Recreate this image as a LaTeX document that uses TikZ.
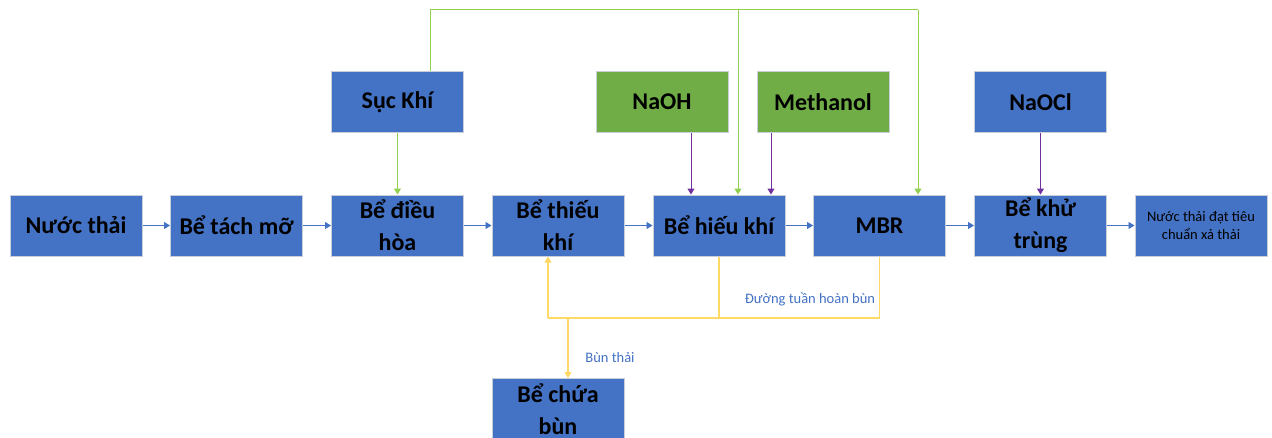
\documentclass[tikz,border=0pt]{standalone}
\usepackage{fontspec}
\setmainfont{Carlito}
\usetikzlibrary{arrows.meta,calc}
\definecolor{obl}{HTML}{4472C4}
\definecolor{ogr}{HTML}{70AD47}
\definecolor{lgr}{HTML}{92D050}
\definecolor{opu}{HTML}{7030A0}
\definecolor{oye}{HTML}{FFD966}
\definecolor{bord}{HTML}{C9CFDA}
\tikzset{
  box/.style={draw=bord,line width=1pt,fill=obl,minimum width=132pt,minimum height=61pt,inner sep=0pt,
    align=center,font=\fontsize{24}{32}\selectfont\bfseries,text=black},
  gbox/.style={box,fill=ogr},
  sbox/.style={box,font=\fontsize{14.5}{18}\selectfont},
  tip/.style={-{Triangle[length=6pt,width=7pt]}},
  flow/.style={tip,draw=obl,line width=0.9pt},
  gline/.style={draw=lgr,line width=1pt},
  pline/.style={draw=opu,line width=1pt},
  yline/.style={draw=oye,line width=1.3pt},
  lab/.style={text=obl,font=\fontsize{14.5}{16}\selectfont}
}
\begin{document}
\begin{tikzpicture}[x=1pt,y=-1pt]
\useasboundingbox (0,0) rectangle (1272,437);
% main row
\node[box] (nt) at (76,225.5) {Nước thải};
\node[box] (tm) at (236.5,225.5) {Bể tách mỡ};
\node[box] (dh) at (397.5,225.5) {Bể điều\\hòa};
\node[box] (tk) at (558,225.5) {Bể thiếu\\khí};
\node[box] (hk) at (719,225.5) {Bể hiếu khí};
\node[box] (mbr) at (879.5,225.5) {MBR};
\node[box] (kt) at (1040.5,225.5) {Bể khử\\trùng};
\node[sbox] (out) at (1201,225.5) {Nước thải đạt tiêu\\chuẩn xả thải};
% top row
\node[box] (suc) at (397.5,102) {Sục Khí};
\node[gbox] (naoh) at (662,102) {NaOH};
\node[gbox] (meth) at (823,102) {Methanol};
\node[box] (naocl) at (1040.5,102) {NaOCl};
% sludge tank
\node[box] (chua) at (558,409) {Bể chứa\\bùn};
% main flow
\draw[flow] (nt) -- (tm);
\draw[flow] (tm) -- (dh);
\draw[flow] (dh) -- (tk);
\draw[flow] (tk) -- (hk);
\draw[flow] (hk) -- (mbr);
\draw[flow] (mbr) -- (kt);
\draw[flow] (kt) -- (out);
% air lines
\coordinate (ta) at (430,9.5);
\coordinate (tb) at (738,9.5);
\coordinate (tc) at (918,9.5);
\draw[gline,tip] (suc) -- (dh);
\draw[gline] ([xshift=32.5pt]suc.north) -- (ta) -- (tc);
\draw[gline,tip] (tc) -- ([xshift=38.5pt]mbr.north);
\draw[gline,tip] (tb) -- ([xshift=19pt]hk.north);
% chemicals
\draw[pline,tip] ([xshift=29pt]naoh.south) -- ([xshift=-28pt]hk.north);
\draw[pline,tip] ([xshift=-52pt]meth.south) -- ([xshift=52pt]hk.north);
\draw[pline,tip] (naocl) -- (kt);
% sludge recirculation
\coordinate (ya) at (548,318);
\coordinate (yb) at (568,318);
\draw[yline] (hk.south) |- (ya);
\draw[yline] (mbr.south) |- (hk.south |- ya);
\draw[yline,tip] (ya) -- ([xshift=-10pt]tk.south);
\draw[yline,tip] (yb) -- ([xshift=10pt]chua.north);
% labels
\node[lab] (l1) at (810,299) {Đường tuần hoàn bùn};
\node[lab] (l2) at (610,358) {Bùn thải};
\end{tikzpicture}
\end{document}
